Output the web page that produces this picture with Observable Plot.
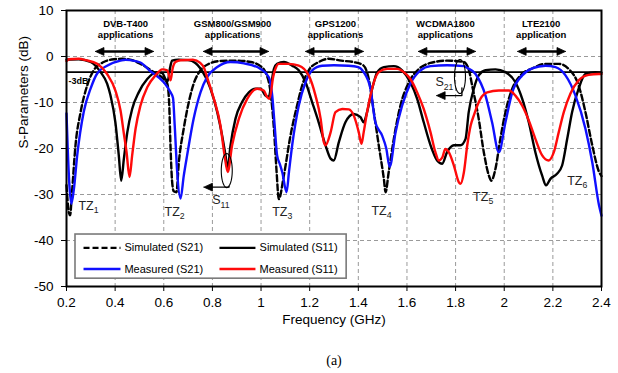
<!DOCTYPE html>
<html><head><meta charset="utf-8">
<script src="https://cdn.jsdelivr.net/npm/d3@7"></script>
<script src="https://cdn.jsdelivr.net/npm/@observablehq/plot@0.6"></script>
<style>body{margin:0;background:#fff}</style>
</head><body><div id="chart"></div>
<script>
// ---- data: [frequency GHz, dB] ----
const simS21 = [[0.2,-28],[0.21,-34],[0.215,-34.5],[0.222,-30],[0.237,-19.3],[0.258,-12.1],[0.285,-6.3],[0.312,-3.0],[0.353,-1.2],[0.395,-0.6],[0.43,-0.5],[0.47,-0.8],[0.504,-1.6],[0.559,-3.4],[0.6,-4.9],[0.614,-5.8],[0.622,-10],[0.628,-20],[0.634,-27],[0.641,-29.3],[0.652,-29.5],[0.662,-23],[0.682,-15.7],[0.703,-9.9],[0.723,-5.9],[0.751,-3.0],[0.785,-1.6],[0.83,-1.0],[0.902,-0.9],[0.957,-1.2],[0.998,-2.1],[1.018,-3.4],[1.039,-7.8],[1.053,-15.7],[1.064,-25.1],[1.073,-31.0],[1.094,-25.8],[1.121,-17.2],[1.148,-10.7],[1.169,-6.3],[1.196,-3.0],[1.237,-1.2],[1.279,-0.5],[1.33,-0.9],[1.38,-1.2],[1.42,-1.9],[1.443,-4.9],[1.464,-12.1],[1.484,-19.3],[1.505,-26.6],[1.512,-29.5],[1.525,-25.1],[1.546,-17.9],[1.573,-10.7],[1.608,-5.6],[1.649,-2.7],[1.697,-1.4],[1.765,-0.9],[1.834,-1.2],[1.855,-3.0],[1.868,-6.3],[1.895,-13.5],[1.916,-20.8],[1.937,-25.9],[1.947,-27],[1.964,-24.4],[1.984,-17.9],[2.005,-12.1],[2.033,-7],[2.067,-4.1],[2.115,-2.6],[2.17,-1.6],[2.224,-1.6],[2.265,-2.7],[2.306,-6.3],[2.334,-12.1],[2.362,-19.3],[2.39,-25.1],[2.4,-26]];
const meaS21 = [[0.2,-12.4],[0.205,-20],[0.212,-28],[0.22,-32],[0.23,-29],[0.244,-21.5],[0.271,-12],[0.299,-7],[0.326,-3.7],[0.367,-2.0],[0.422,-0.9],[0.443,-0.7],[0.463,-0.8],[0.504,-1.3],[0.545,-3.2],[0.6,-5.6],[0.628,-7.8],[0.638,-9],[0.645,-15],[0.655,-25],[0.669,-30.9],[0.682,-26],[0.696,-21.5],[0.723,-13.5],[0.751,-7.8],[0.778,-4.5],[0.82,-2.3],[0.874,-1.2],[0.93,-1.5],[0.998,-2.7],[1.032,-4.5],[1.046,-8.5],[1.056,-15],[1.066,-21.5],[1.078,-23.5],[1.087,-25.1],[1.105,-29.5],[1.115,-25],[1.128,-19.3],[1.155,-10.7],[1.183,-5.6],[1.21,-3.0],[1.251,-2.0],[1.3,-1.9],[1.36,-2.0],[1.4,-2.3],[1.422,-3.4],[1.45,-7],[1.47,-14.3],[1.498,-17.2],[1.515,-20],[1.529,-24],[1.553,-16.5],[1.58,-10.7],[1.614,-5.9],[1.656,-3.0],[1.697,-2.1],[1.765,-1.9],[1.834,-2.1],[1.845,-2.4],[1.882,-3.8],[1.923,-8.5],[1.95,-14.3],[1.978,-20.8],[2.005,-14.3],[2.033,-7.8],[2.074,-4.1],[2.115,-2.6],[2.17,-2.0],[2.211,-2.3],[2.252,-4.1],[2.293,-8.5],[2.334,-15.7],[2.362,-23],[2.39,-32.4],[2.4,-34.6]];
const simS11 = [[0.2,-0.7],[0.25,-0.6],[0.299,-1.2],[0.34,-3.4],[0.367,-5.9],[0.381,-8.5],[0.401,-14.3],[0.415,-21.5],[0.425,-27],[0.436,-22.2],[0.45,-16.5],[0.47,-11.4],[0.497,-7.8],[0.532,-4.9],[0.573,-3.4],[0.594,-3.6],[0.607,-4.9],[0.616,-5.4],[0.625,-2.7],[0.634,-0.9],[0.66,-0.7],[0.7,-0.8],[0.73,-1.4],[0.751,-2.6],[0.792,-7.0],[0.82,-12.1],[0.84,-17.2],[0.854,-21.5],[0.863,-24.4],[0.874,-19.5],[0.895,-13.5],[0.922,-9.9],[0.95,-7.8],[0.977,-7.0],[0.998,-7.0],[1.018,-8.5],[1.032,-8.8],[1.043,-5.6],[1.053,-2.7],[1.066,-1.6],[1.094,-1.2],[1.128,-2.0],[1.155,-3.0],[1.183,-5.6],[1.21,-9.9],[1.237,-14.3],[1.265,-19.3],[1.286,-22.2],[1.299,-22.6],[1.32,-18.6],[1.347,-14.3],[1.381,-12.5],[1.409,-13.2],[1.422,-14.3],[1.436,-12.1],[1.457,-7.0],[1.478,-3.4],[1.505,-2.3],[1.546,-2.1],[1.58,-3.0],[1.614,-5.6],[1.642,-9.2],[1.669,-14.3],[1.697,-19.3],[1.724,-22.6],[1.745,-23.3],[1.765,-20.8],[1.793,-19.3],[1.82,-19.3],[1.841,-17.9],[1.854,-12.1],[1.875,-7.0],[1.895,-4.1],[1.923,-3.0],[1.964,-2.8],[2.005,-3.4],[2.046,-5.6],[2.074,-9.2],[2.101,-14.3],[2.128,-20.8],[2.156,-25.9],[2.172,-28],[2.19,-26.6],[2.217,-25.5],[2.238,-23.7],[2.259,-17.9],[2.279,-12.1],[2.306,-7.0],[2.334,-3.8],[2.375,-3.4],[2.4,-3.5]];
const meaS11 = [[0.2,-1.0],[0.21,-0.6],[0.25,-0.5],[0.28,-0.8],[0.326,-1.6],[0.367,-3.8],[0.401,-7.4],[0.422,-11.7],[0.436,-16.8],[0.447,-20.8],[0.459,-26.2],[0.47,-21.5],[0.484,-15.7],[0.504,-10.7],[0.532,-6.7],[0.566,-4.1],[0.594,-2.8],[0.614,-3.0],[0.622,-4.2],[0.628,-5.2],[0.636,-2.7],[0.648,-1.2],[0.669,-0.8],[0.72,-0.7],[0.75,-1.4],[0.765,-2.4],[0.778,-4.5],[0.806,-9.2],[0.833,-15],[0.85,-21.5],[0.863,-25.1],[0.881,-19.3],[0.909,-13.5],[0.943,-9.2],[0.984,-7.0],[1.011,-7.4],[1.025,-8.8],[1.035,-9.2],[1.05,-4.4],[1.059,-2.7],[1.073,-1.6],[1.114,-1.6],[1.155,-2.0],[1.196,-4.1],[1.224,-8.5],[1.245,-13.5],[1.258,-18.6],[1.265,-19.3],[1.286,-16.5],[1.306,-12.1],[1.334,-11.4],[1.361,-11.5],[1.381,-12.8],[1.402,-16.5],[1.413,-19],[1.422,-16.5],[1.436,-12.1],[1.45,-8.5],[1.464,-5.6],[1.484,-3.4],[1.519,-2.7],[1.56,-2.7],[1.587,-3.4],[1.614,-4.9],[1.642,-7.8],[1.669,-11.4],[1.697,-16.5],[1.717,-20.8],[1.731,-22.6],[1.745,-22],[1.758,-20.1],[1.772,-20.8],[1.793,-23.7],[1.813,-27.3],[1.82,-27.7],[1.834,-25.2],[1.848,-19.3],[1.862,-15],[1.875,-12.8],[1.902,-9.2],[1.93,-7.8],[1.978,-7.4],[2.019,-7.4],[2.046,-8.5],[2.074,-10.7],[2.101,-13.9],[2.128,-17.9],[2.156,-21.5],[2.183,-22.6],[2.204,-20.8],[2.224,-16.5],[2.245,-12.1],[2.272,-8.1],[2.306,-5.2],[2.347,-4.0],[2.389,-3.8],[2.4,-3.8]];

const seriesNames = ["Simulated (S21)", "Simulated (S11)", "Measured (S21)", "Measured (S11)"];
const seriesColors = ["black", "black", "#1010ff", "#ff0a0a"];
const seriesDash = ["6,3", null, null, null];

const xTicks = [0.2,0.4,0.6,0.8,1.0,1.2,1.4,1.6,1.8,2.0,2.2,2.4];
const xTickLabels = ["0.2","0.4","0.6","0.8","1","1.2","1.4","1.6","1.8","2","2.2","2.4"];
const yTicks = [10,0,-10,-20,-30,-40,-50];
const yTickLabels = ["10","0","-10","-20","-30","-40","-50"];
const threeDb = -3.4;

const bandTitles = ["DVB-T400","GSM800/GSM900","GPS1200","WCDMA1800","LTE2100"];
const bandSubs = ["applications","applications","applications","applications","application"];
const bandCenter = [0.443,0.883,1.306,1.758,2.152];
const bandStart = [0.319,0.763,1.183,1.647,2.055];
const bandEnd = [0.558,1.031,1.421,1.882,2.252];
const bandTitleY = 7.0, bandSubY = 4.6, bandArrowY = 1.1;

const tzText = ["TZ1","TZ2","TZ3","TZ4","TZ5","TZ6"];
const tzX = [0.249,0.603,1.046,1.454,1.872,2.259];
const tzY = [-32.5,-33.7,-33.7,-33.5,-30.6,-27];

const callouts = ["S11","S21"];
const calloutTextX = [0.799,1.717];
const calloutTextY = [-31.3,-5.65];
const ellipseCx = [0.859,1.818], ellipseCy = [-24.8,-4.35];
const ellipseRx = 0.0226, ellipseRy = 3.7;
const pointerFromX = [0.868,1.826], pointerFromY = [-28.2,-6.8];
const pointerToX = [0.765,1.722], pointerToY = [-28.4,-8.5];

// legend placement (data units)
const legendBox = {x1:0.237, x2:1.352, y1:-38.7, y2:-48.3};
const legendColX = [[0.27,0.422,0.438],[0.829,0.977,0.994]];
const legendRowY = [-41.6,-46.2];

// ---- build ----
const curves = [simS21, simS11, meaS21, meaS11].flatMap((arr, i) => arr.map(([f, v]) => ({f, v, s: seriesNames[i]})));
const headLen = 0.035, headHalf = 0.85;
const tri = (x, y, dir, id) => [[x, y], [x - dir*headLen, y + headHalf], [x - dir*headLen, y - headHalf], [x, y]].map(([a,b]) => ({x:a, y:b, id}));
const heads = [];
bandStart.forEach((s, i) => { heads.push(...tri(s, bandArrowY, -1, "bs"+i)); heads.push(...tri(bandEnd[i], bandArrowY, 1, "be"+i)); });
pointerToX.forEach((x, i) => heads.push(...tri(x, pointerToY[i], -1, "p"+i)));
const ellipses = [];
ellipseCx.forEach((cx, i) => { for (let k = 0; k <= 48; k++) { const t = 2*Math.PI*k/48; ellipses.push({x: cx + ellipseRx*Math.cos(t), y: ellipseCy[i] + ellipseRy*Math.sin(t), id: i}); } });
const pointers = [];
pointerFromX.forEach((x, i) => { pointers.push({x, y: pointerFromY[i], id: i}, {x, y: pointerToY[i], id: i}, {x: pointerToX[i] + headLen*0.8, y: pointerToY[i], id: i}); });

const legendItems = seriesNames.map((n, i) => ({n, i, col: legendColX[i % 2], row: legendRowY[Math.floor(i / 2)]}));

const F = "Liberation Sans, Arial, Helvetica, sans-serif";
const plot = Plot.plot({
  width: 618, height: 373,
  marginLeft: 66, marginRight: 17, marginTop: 10, marginBottom: 87,
  style: {fontFamily: F, fontSize: "13.5px", background: "white", color: "black", overflow: "visible"},
  x: {domain: [0.2, 2.4], ticks: xTicks, tickFormat: d => xTickLabels[xTicks.findIndex(t => Math.abs(t - d) < 1e-9)], tickSize: 5, tickPadding: 6, label: null},
  y: {domain: [-50, 10], ticks: yTicks, tickFormat: d => yTickLabels[yTicks.indexOf(d)], tickSize: 5, tickPadding: 8, label: null},
  marks: [
    Plot.ruleX(xTicks, {stroke: "#9a9a9a", strokeDasharray: "4,3", strokeWidth: 1}),
    Plot.ruleY(yTicks, {stroke: "#9a9a9a", strokeDasharray: "4,3", strokeWidth: 1}),
    Plot.ruleY([threeDb], {stroke: "black", strokeWidth: 1.6}),
    Plot.text(["-3dB"], {x: 0.2, y: threeDb, text: d => d, dx: 2, dy: 9, textAnchor: "start", fontWeight: "bold", fontSize: 9}),
    ...seriesNames.map((n, i) => Plot.line(curves.filter(d => d.s === n), {x: "f", y: "v", stroke: seriesColors[i], strokeWidth: 2.4, strokeDasharray: seriesDash[i], curve: "monotone-x"})),
    Plot.text(bandTitles, {x: (d, i) => bandCenter[i], y: bandTitleY, text: d => d, fontWeight: "bold", fontSize: 9.5}),
    Plot.text(bandSubs, {x: (d, i) => bandCenter[i], y: bandSubY, text: d => d, fontWeight: "bold", fontSize: 9.5}),
    Plot.link(bandStart, {x1: (d) => d + headLen*0.8, x2: (d, i) => bandEnd[i] - headLen*0.8, y1: bandArrowY, y2: bandArrowY, stroke: "black", strokeWidth: 2.4}),
    Plot.line(heads, {x: "x", y: "y", z: "id", fill: "black", stroke: "black", strokeWidth: 0.8}),
    Plot.line(ellipses, {x: "x", y: "y", z: "id", stroke: "black", strokeWidth: 1.1}),
    Plot.line(pointers, {x: "x", y: "y", z: "id", stroke: "black", strokeWidth: 1.3}),
    Plot.text(tzText, {x: (d, i) => tzX[i], y: (d, i) => tzY[i], text: d => d, textAnchor: "start", fontSize: 12.5, fill: "#222"}),
    Plot.text(callouts, {x: (d, i) => calloutTextX[i], y: (d, i) => calloutTextY[i], text: d => d, textAnchor: "start", fontSize: 12.5, fill: "#222"}),
    Plot.rect([legendBox], {x1: "x1", x2: "x2", y1: "y1", y2: "y2", fill: "white", stroke: "#7a7a7a", strokeWidth: 1.6}),
    ...legendItems.map(d => Plot.link([d], {x1: d.col[0], x2: d.col[1], y1: d.row, y2: d.row, stroke: seriesColors[d.i], strokeWidth: 2.4, strokeDasharray: seriesDash[d.i]})),
    Plot.text(legendItems, {x: d => d.col[2], y: d => d.row, text: "n", textAnchor: "start", fontSize: 11}),
    Plot.frame({stroke: "black", strokeWidth: 2}),
    Plot.text(["Frequency (GHz)"], {frameAnchor: "bottom", text: d => d, dy: 37, fontSize: 13.5}),
    Plot.text(["S-Parameters (dB)"], {frameAnchor: "left", text: d => d, dx: -43, rotate: -90, fontSize: 13.5}),
    Plot.text(["(a)"], {frameAnchor: "bottom", text: d => d, dy: 78, fontSize: 14, fontFamily: "Liberation Serif, Times New Roman, serif"})
  ]
});
d3.select(plot).selectAll("text").each(function() {
  const m = /^(TZ|S)(\d+)$/.exec(this.textContent);
  if (m) {
    const s = d3.select(this);
    s.text(null);
    s.append("tspan").text(m[1]);
    s.append("tspan").attr("font-size", "0.7em").attr("dy", "0.35em").text(m[2]);
  }
});
document.getElementById("chart").appendChild(plot);
</script>
</body></html>
